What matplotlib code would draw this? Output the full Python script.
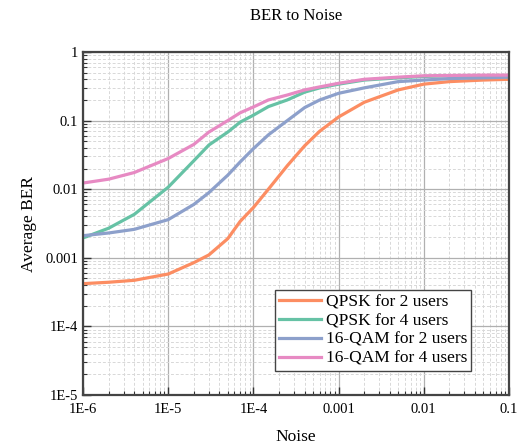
import matplotlib
matplotlib.use("Agg")
import matplotlib.pyplot as plt
from matplotlib.ticker import FixedLocator, LogLocator, NullFormatter

plt.rcParams['font.family'] = ['Liberation Serif', 'DejaVu Serif']

noise = [1e-6, 2e-6, 4e-6, 1e-5, 2e-5, 3e-5, 5e-5, 7e-5, 1e-4, 1.5e-4,
         2.5e-4, 4e-4, 6e-4, 1e-3, 2e-3, 5e-3, 1e-2, 2e-2, 5e-2, 1e-1]
qpsk2 = [4.2e-4, 4.4e-4, 4.7e-4, 5.8e-4, 8.5e-4, 1.1e-3, 1.9e-3, 3.4e-3, 5.4e-3, 0.010,
         0.022, 0.043, 0.07, 0.113, 0.185, 0.28, 0.34, 0.37, 0.39, 0.40]
qpsk4 = [1.95e-3, 2.7e-3, 4.3e-3, 0.0107, 0.026, 0.044, 0.068, 0.095, 0.12, 0.16,
         0.20, 0.26, 0.30, 0.34, 0.39, 0.42, 0.44, 0.45, 0.45, 0.45]
qam2 = [2.1e-3, 2.3e-3, 2.6e-3, 3.6e-3, 6.0e-3, 8.9e-3, 0.016, 0.025, 0.039, 0.062,
        0.10, 0.155, 0.20, 0.25, 0.30, 0.37, 0.39, 0.41, 0.42, 0.43]
qam4 = [0.0123, 0.014, 0.0175, 0.028, 0.045, 0.068, 0.10, 0.13, 0.158, 0.20,
        0.236, 0.28, 0.31, 0.35, 0.40, 0.43, 0.45, 0.455, 0.46, 0.46]

labels = ["QPSK for 2 users", "QPSK for 4 users", "16-QAM for 2 users", "16-QAM for 4 users"]
colors = ["#FC8D62", "#66C2A5", "#8DA0CB", "#E78AC3"]
series = [qpsk2, qpsk4, qam2, qam4]

xticks = [1e-6, 1e-5, 1e-4, 1e-3, 1e-2, 1e-1]
xticklabels = ["1E-6", "1E-5", "1E-4", "0.001", "0.01", "0.1"]
yticks = [1e-5, 1e-4, 1e-3, 1e-2, 1e-1, 1]
yticklabels = ["1E-5", "1E-4", "0.001", "0.01", "0.1", "1"]

fig = plt.figure(figsize=(5.25, 4.46), dpi=100)
ax = fig.add_axes([83/525, 1-395/446, (509-83)/525, (395-52)/446])

for y, c, l in zip(series, colors, labels):
    ax.plot(noise, y, color=c, lw=2.3, label=l, solid_joinstyle='round')

ax.set_xscale('log')
ax.set_yscale('log')
ax.set_xlim(1e-6, 1e-1)
ax.set_ylim(1e-5, 1)
ax.xaxis.set_major_locator(FixedLocator(xticks))
ax.set_xticklabels(xticklabels)
ax.yaxis.set_major_locator(FixedLocator(yticks))
ax.set_yticklabels(yticklabels)
for axis in (ax.xaxis, ax.yaxis):
    axis.set_minor_locator(LogLocator(base=10, subs=range(2, 10), numticks=20))
    axis.set_minor_formatter(NullFormatter())

ax.tick_params(which='major', direction='in', length=6, width=1, labelsize=10.5,
               top=False, right=False, colors='#333333', labelcolor='black')
ax.tick_params(which='minor', direction='in', length=3, width=0.8,
               top=False, right=False, colors='#333333')
ax.tick_params(axis='x', pad=6)

ax.grid(True, which='major', color='#b0b0b0', lw=0.9, ls='-')
ax.grid(True, which='minor', color='#d8d8d8', lw=0.7, ls=(0, (3, 2)))
ax.set_axisbelow(True)
for s in ax.spines.values():
    s.set_linewidth(1.6)
    s.set_color('#444444')

ax.set_title("BER to Noise", fontsize=12, pad=23)
ax.set_xlabel("Noise", fontsize=12.5, labelpad=9)
ax.set_ylabel("Average BER", fontsize=12.5, labelpad=6)

leg = ax.legend(loc='lower right', bbox_to_anchor=(0.92, 0.06), fontsize=12.5,
                frameon=True, fancybox=False, edgecolor='#444444',
                handlelength=2.4, handletextpad=0.3, borderpad=0.25,
                labelspacing=0.15, borderaxespad=0.2)
leg.get_frame().set_linewidth(1.0)
leg.get_frame().set_alpha(1)

fig.savefig("out.png", dpi=100)
